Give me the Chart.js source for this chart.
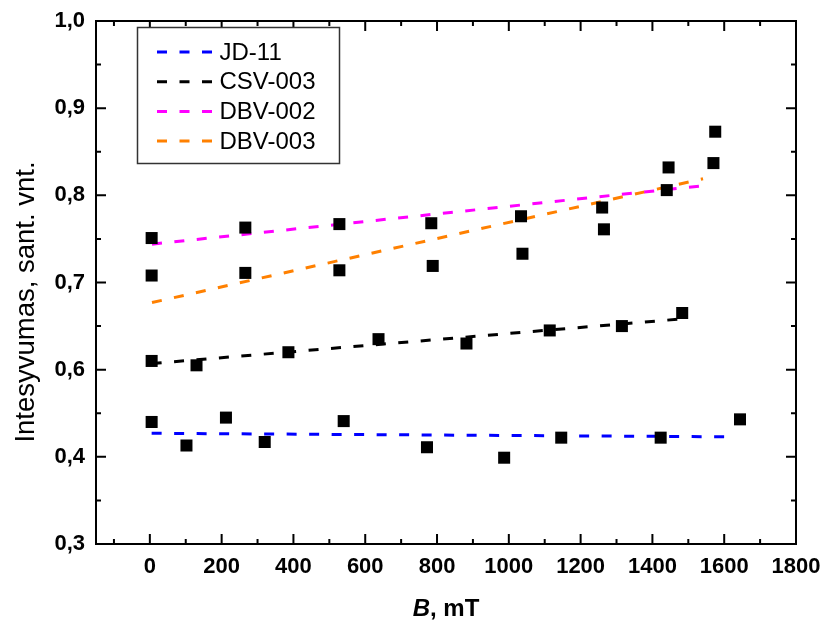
<!DOCTYPE html>
<html><head><meta charset="utf-8">
<script src="https://cdn.jsdelivr.net/npm/chart.js@4.4.0/dist/chart.umd.min.js"></script>
<style>html,body{margin:0;padding:0;background:#fff}#wrap{width:825px;height:623px;position:relative}</style>
</head><body><div id="wrap"><canvas id="c"></canvas></div>
<script>
// ---- data ----
const JD11_B = [5, 102, 212, 320, 540, 772, 987, 1146, 1423, 1644];
const JD11_I = [0.540, 0.513, 0.545, 0.517, 0.541, 0.511, 0.499, 0.522, 0.522, 0.543];
const CSV003_B = [5, 130, 386, 637, 882, 1114, 1315, 1483];
const CSV003_I = [0.610, 0.605, 0.620, 0.635, 0.630, 0.645, 0.650, 0.665];
const DBV002_B = [5, 266, 528, 784, 1034, 1260, 1440, 1570];
const DBV002_I = [0.751, 0.763, 0.767, 0.768, 0.776, 0.786, 0.806, 0.837];
const DBV003_B = [5, 266, 528, 788, 1038, 1265, 1445, 1575];
const DBV003_I = [0.708, 0.711, 0.714, 0.719, 0.733, 0.761, 0.832, 0.873];

// fitted (dashed) lines: end points
const JD11_FIT_B = [5, 1602];
const JD11_FIT_I = [0.527, 0.523];
const CSV003_FIT_B = [5, 1475];
const CSV003_FIT_I = [0.607, 0.658];
const DBV002_FIT_B = [6, 1540];
const DBV002_FIT_I = [0.744, 0.811];
const DBV003_FIT_B = [6, 1541];
const DBV003_FIT_I = [0.677, 0.819];

const SERIES_NAMES = ['JD-11', 'CSV-003', 'DBV-002', 'DBV-003'];
const SERIES_COLORS = ['#0000FF', '#000000', '#FF00FF', '#FF8000'];

// ticks
const X_TICKS = [-100, 0, 100, 200, 300, 400, 500, 600, 700, 800, 900, 1000, 1100, 1200, 1300, 1400, 1500, 1600, 1700, 1800];
const X_MAJOR = [0, 200, 400, 600, 800, 1000, 1200, 1400, 1600, 1800];
const X_LABELS = ['0', '200', '400', '600', '800', '1000', '1200', '1400', '1600', '1800'];
const Y_TICKS = [0.4, 0.45, 0.5, 0.55, 0.6, 0.65, 0.7, 0.75, 0.8, 0.85, 0.9, 0.95, 1.0];
const Y_MAJOR = [0.4, 0.5, 0.6, 0.7, 0.8, 0.9, 1.0];
const Y_LABELS = ['0,3', '0,4', '0,6', '0,7', '0,8', '0,9', '1,0'];

const X_TITLE_BOLD_ITALIC = 'B';
const X_TITLE_REST = ', mT';
const Y_TITLE = 'Intesyvumas, sant. vnt.';

const FONT = '"Liberation Sans", Arial, sans-serif';

function pts(xs, ys) { return xs.map((x, i) => ({ x: x, y: ys[i] })); }
function majorIndex(list, v) { return list.findIndex(m => Math.abs(m - v) < 1e-6); }

const pointSets = [[JD11_B, JD11_I], [CSV003_B, CSV003_I], [DBV002_B, DBV002_I], [DBV003_B, DBV003_I]];
const fitSets = [[JD11_FIT_B, JD11_FIT_I], [CSV003_FIT_B, CSV003_FIT_I], [DBV002_FIT_B, DBV002_FIT_I], [DBV003_FIT_B, DBV003_FIT_I]];

const datasets = [];
fitSets.forEach((s, i) => {
  datasets.push({
    type: 'line', label: SERIES_NAMES[i], isFit: true,
    data: pts(s[0], s[1]), showLine: true, borderColor: SERIES_COLORS[i],
    borderWidth: 3, borderDash: [10, 12.5], pointRadius: 0, fill: false, order: 2
  });
});
pointSets.forEach((s, i) => {
  datasets.push({
    type: 'scatter', label: SERIES_NAMES[i] + ' data', isFit: false,
    data: pts(s[0], s[1]), pointStyle: 'rect', pointRadius: 8.5,
    backgroundColor: '#000', borderColor: '#000', borderWidth: 0, order: 1
  });
});

const framePlugin = {
  id: 'frame',
  afterDraw(chart) {
    const ctx = chart.ctx, a = chart.chartArea;
    const xs = chart.scales.x, ys = chart.scales.y;
    ctx.save();
    ctx.strokeStyle = '#000';
    ctx.lineWidth = 2;
    ctx.strokeRect(a.left, a.top, a.right - a.left, a.bottom - a.top);
    ctx.beginPath();
    X_TICKS.forEach(v => {
      const p = xs.getPixelForValue(v);
      if (p <= a.left + 1 || p >= a.right - 1) return;
      const len = majorIndex(X_MAJOR, v) >= 0 ? 10 : 5;
      ctx.moveTo(p, a.bottom); ctx.lineTo(p, a.bottom - len);
      ctx.moveTo(p, a.top); ctx.lineTo(p, a.top + len);
    });
    Y_TICKS.forEach(v => {
      const p = ys.getPixelForValue(v);
      if (p <= a.top + 1 || p >= a.bottom - 1) return;
      const len = majorIndex(Y_MAJOR, v) >= 0 ? 10 : 5;
      ctx.moveTo(a.left, p); ctx.lineTo(a.left + len, p);
      ctx.moveTo(a.right, p); ctx.lineTo(a.right - len, p);
    });
    ctx.stroke();

    // axis titles
    ctx.fillStyle = '#000';
    ctx.textBaseline = 'middle';
    ctx.save();
    ctx.translate(26, 302);
    ctx.rotate(-Math.PI / 2);
    ctx.textAlign = 'center';
    ctx.font = '27.5px ' + FONT;
    ctx.fillText(Y_TITLE, 0, 0);
    ctx.restore();

    const f1 = 'italic bold 24px ' + FONT, f2 = 'bold 24px ' + FONT;
    ctx.font = f1; const w1 = ctx.measureText(X_TITLE_BOLD_ITALIC).width;
    ctx.font = f2; const w2 = ctx.measureText(X_TITLE_REST).width;
    const cx = (a.left + a.right) / 2, x0 = cx - (w1 + w2) / 2;
    ctx.textAlign = 'left';
    ctx.font = f1; ctx.fillText(X_TITLE_BOLD_ITALIC, x0, 609);
    ctx.font = f2; ctx.fillText(X_TITLE_REST, x0 + w1, 609);

    // legend
    const bx = 137.5, by = 27.5, bw = 202, bh = 136;
    ctx.fillStyle = '#fff';
    ctx.fillRect(bx, by, bw, bh);
    ctx.strokeStyle = '#333';
    ctx.lineWidth = 1.5;
    ctx.strokeRect(bx, by, bw, bh);
    const fits = chart.data.datasets.filter(d => d.isFit);
    fits.forEach((d, i) => {
      const y = 52 + i * 29.7;
      ctx.save();
      ctx.strokeStyle = d.borderColor;
      ctx.lineWidth = 3;
      ctx.setLineDash([10, 12.5]);
      ctx.beginPath(); ctx.moveTo(157, y); ctx.lineTo(212, y); ctx.stroke();
      ctx.restore();
      ctx.fillStyle = '#000';
      ctx.font = '24px ' + FONT;
      ctx.textAlign = 'left';
      ctx.textBaseline = 'middle';
      ctx.fillText(d.label, 219.5, y + 1);
    });
    ctx.restore();
  }
};

new Chart(document.getElementById('c'), {
  type: 'scatter',
  data: { datasets: datasets },
  options: {
    responsive: true, maintainAspectRatio: false, animation: false,
    layout: { padding: { top: 21, right: 29, left: 0, bottom: 0 } },
    plugins: { legend: { display: false }, tooltip: { enabled: false } },
    scales: {
      x: {
        type: 'linear', min: -150, max: 1800,
        afterBuildTicks: s => { s.ticks = X_TICKS.map(v => ({ value: v })); },
        afterFit: s => { s.height = 79; s.paddingLeft = 0; s.paddingRight = 0; },
        grid: { display: false, drawTicks: false },
        border: { display: false },
        ticks: {
          autoSkip: false, maxRotation: 0, minRotation: 0, padding: 10,
          color: '#000', font: { family: FONT, size: 22, weight: 'bold' },
          callback: v => { const i = majorIndex(X_MAJOR, v); return i >= 0 ? X_LABELS[i] : ''; }
        }
      },
      y: {
        type: 'linear', min: 0.4, max: 1.0,
        afterBuildTicks: s => { s.ticks = Y_TICKS.map(v => ({ value: v })); },
        afterFit: s => { s.width = 96; s.paddingTop = 0; s.paddingBottom = 0; },
        grid: { display: false, drawTicks: false },
        border: { display: false },
        ticks: {
          autoSkip: false, padding: 11,
          color: '#000', font: { family: FONT, size: 22, weight: 'bold' },
          callback: v => { const i = majorIndex(Y_MAJOR, v); return i >= 0 ? Y_LABELS[i] : ''; }
        }
      }
    }
  },
  plugins: [framePlugin]
});
</script>
</body></html>
